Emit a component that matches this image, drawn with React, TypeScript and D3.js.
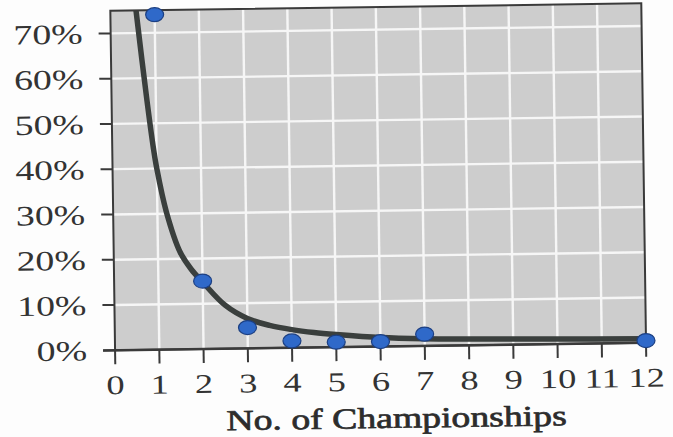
import React from 'react';
import * as d3 from 'd3';

const xTicks = [0, 1, 2, 3, 4, 5, 6, 7, 8, 9, 10, 11, 12];
const yTicks = [0, 10, 20, 30, 40, 50, 60, 70];
const pointX = [1, 2, 3, 4, 5, 6, 7, 12];
const pointY = [74, 15, 4.6, 1.5, 1.1, 1.1, 2.6, 0.5];
const curveX = [0.55, 0.58, 0.8, 0.93, 1.0, 1.2, 1.5, 1.75, 2, 2.5, 3, 3.5, 4, 4.5, 5, 6, 7, 8, 10, 12];
const curveY = [78, 75, 55, 44.5, 40, 30.5, 21.5, 17.6, 14.8, 9.6, 6.6, 5.0, 4.0, 3.3, 2.8, 2.0, 1.6, 1.4, 1.1, 0.9];
const xTitle = 'No. of Championships';

const W = 673;
const H = 437;
const FONT = '"Liberation Serif", "Times New Roman", serif';
const SX = 1.35;

export default function App() {
  const x = d3.scaleLinear().domain([0, 12]).range([113, 644]);
  const y = d3.scaleLinear().domain([0, 75]).range([346.5, 7]);
  const [x0, x1] = x.range();
  const [yb, yt] = y.range();

  const line = d3
    .line<number>()
    .x((_, i) => x(curveX[i]))
    .y((d) => y(d))
    .curve(d3.curveCatmullRom.alpha(0.5));

  return (
    <svg
      width={W}
      height={H}
      viewBox={`0 0 ${W} ${H}`}
      style={{ position: 'absolute', left: 0, top: 0, background: '#fdfdfd' }}
    >
      <defs>
        <clipPath id="plotClip">
          <rect x={x0} y={yt} width={x1 - x0} height={yb - yt} />
        </clipPath>
      </defs>
      <g transform="rotate(-0.8, 380, 200)">
        <rect x={x0} y={yt} width={x1 - x0} height={yb - yt} fill="#cdcdcd" />
        {xTicks.slice(1, -1).map((t) => (
          <line key={'gx' + t} x1={x(t)} x2={x(t)} y1={yt} y2={yb} stroke="#f6f6f6" strokeWidth={2.4} />
        ))}
        {yTicks.slice(1).map((t) => (
          <line key={'gy' + t} x1={x0} x2={x1} y1={y(t)} y2={y(t)} stroke="#f6f6f6" strokeWidth={2.4} />
        ))}
        <path
          d={line(curveY) || ''}
          fill="none"
          stroke="#3a3f3d"
          strokeWidth={5.5}
          clipPath="url(#plotClip)"
        />
        <rect x={x0} y={yt} width={x1 - x0} height={yb - yt} fill="none" stroke="#3a3a3a" strokeWidth={2} />
        {yTicks.map((t) => (
          <line key={'ty' + t} x1={x0 - 12} x2={x0} y1={y(t)} y2={y(t)} stroke="#3a3a3a" strokeWidth={2} />
        ))}
        {xTicks.map((t) => (
          <line key={'tx' + t} x1={x(t)} x2={x(t)} y1={yb} y2={yb + 14} stroke="#3a3a3a" strokeWidth={2} />
        ))}
        <line x1={x0 - 12} x2={x1} y1={yb} y2={yb} stroke="#3a3a3a" strokeWidth={2.5} />
        {yTicks.map((t) => (
          <text
            key={'ly' + t}
            transform={`translate(${x0 - 28},${y(t)}) scale(${SX},1)`}
            textAnchor="end"
            dominantBaseline="central"
            fontFamily={FONT}
            fontSize={28}
            fill="#333"
          >
            {t + '%'}
          </text>
        ))}
        {xTicks.map((t) => (
          <text
            key={'lx' + t}
            transform={`translate(${x(t)},${yb + 44}) scale(${SX},1)`}
            textAnchor="middle"
            fontFamily={FONT}
            fontSize={27}
            fill="#333"
          >
            {String(t)}
          </text>
        ))}
        <text
          transform={`translate(${(x0 + x1) / 2 + 15},${yb + 81.5}) scale(1.3,1)`}
          textAnchor="middle"
          fontFamily={FONT}
          fontSize={29}
          fill="#2c2c2c"
          stroke="#2c2c2c"
          strokeWidth={0.7}
        >
          {xTitle}
        </text>
        {pointX.map((px, i) => (
          <ellipse
            key={'p' + i}
            cx={x(px)}
            cy={y(pointY[i])}
            rx={9}
            ry={7}
            fill="#2f69c9"
            stroke="#1c3f82"
            strokeWidth={1.2}
          />
        ))}
      </g>
    </svg>
  );
}
